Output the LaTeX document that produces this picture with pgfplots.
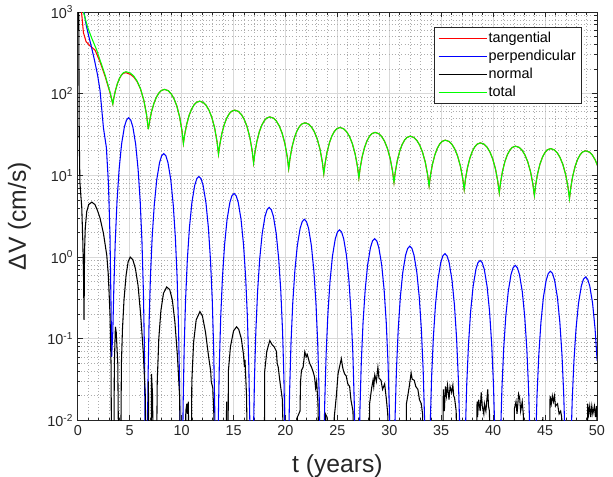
\documentclass[border=0pt]{standalone}
\usepackage{fontspec}
\setmainfont{Liberation Sans}
\setsansfont{Liberation Sans}
\usepackage{pgfplots}
\pgfplotsset{compat=1.18}
\usepackage{pgfplotstable}
\definecolor{axgray}{rgb}{0.15,0.15,0.15}

\pgfplotstableread{
t v
6.79 36.8
6.915 46.35
7.102 60.35
7.336 76.61
7.57 90.68
7.804 101.77
8.038 109.27
8.35 113
8.714 108.68
8.987 99.97
9.26 87.11
9.533 70.79
9.806 51.92
10.024 35.68
10.17 24.6
10.295 31.67
10.482 42.03
10.716 54.07
10.95 64.48
11.184 72.69
11.418 78.24
11.73 81
12.094 77.93
12.367 71.74
12.64 62.61
12.913 51.01
13.186 37.61
13.404 26.07
13.55 18.2
13.675 23.81
13.862 32.04
14.096 41.61
14.33 49.88
14.564 56.40
14.798 60.81
15.11 63
15.474 60.61
15.747 55.81
16.02 48.71
16.293 39.70
16.566 29.28
16.784 20.31
16.93 14.2
17.055 18.94
17.242 25.88
17.476 33.95
17.71 40.93
17.944 46.43
18.178 50.15
18.49 52
18.854 50.05
19.127 46.12
19.4 40.31
19.673 32.95
19.946 24.43
20.164 17.1
20.31 12.1
20.435 16.1
20.622 21.96
20.856 28.77
21.09 34.66
21.324 39.3
21.558 42.44
21.87 44
22.234 42.36
22.507 39.06
22.78 34.19
23.053 28.0
23.326 20.85
23.544 14.7
23.69 10.5
23.815 14.02
24.002 19.18
24.236 25.18
24.47 30.37
24.704 34.46
24.938 37.23
25.25 38.6
25.614 37.17
25.887 34.28
26.16 30.02
26.433 24.61
26.706 18.35
26.924 12.97
27.07 9.3
27.195 12.34
27.382 16.81
27.616 22.0
27.85 26.48
28.084 30.02
28.318 32.41
28.63 33.6
28.994 32.36
29.267 29.86
29.54 26.16
29.813 21.47
30.086 16.05
30.304 11.38
30.45 8.2
30.575 10.96
30.762 15.0
30.996 19.7
31.23 23.76
31.464 26.96
31.698 29.12
32.01 30.2
32.374 29.09
32.647 26.84
32.92 23.52
33.193 19.31
33.466 14.45
33.684 10.26
33.83 7.4
33.955 9.86
34.142 13.46
34.376 17.64
34.61 21.26
34.844 24.11
35.078 26.04
35.39 27
35.754 26.01
36.027 24.01
36.3 21.05
36.573 17.31
36.846 12.97
37.064 9.24
37.21 6.7
37.335 8.99
37.522 12.35
37.756 16.26
37.99 19.64
38.224 22.3
38.458 24.11
38.77 25
39.134 24.08
39.407 22.21
39.68 19.46
39.953 15.98
40.226 11.94
40.444 8.47
40.59 6.1
40.715 8.19
40.902 11.26
41.136 14.83
41.37 17.91
41.604 20.34
41.838 21.98
42.15 22.8
42.514 21.96
42.787 20.28
43.06 17.79
43.333 14.63
43.606 10.98
43.824 7.84
43.97 5.7
44.095 7.65
44.282 10.52
44.516 13.85
44.75 16.73
44.984 19.0
45.218 20.54
45.53 21.3
45.894 20.51
46.167 18.93
46.44 16.58
46.713 13.61
46.986 10.17
47.204 7.22
47.35 5.2
47.475 7.05
47.662 9.77
47.896 12.93
48.13 15.67
48.364 17.82
48.598 19.28
48.91 20
49.274 19.26
49.547 17.76
49.82 15.55
50.093 12.74
}\totaltail

\begin{document}
\begin{tikzpicture}
\begin{axis}[
  name=ax,
  scale only axis, width=389pt, height=306pt,
  ymode=log, xmin=0, xmax=50, ymin=0.01, ymax=1000,
  xtick={0,5,10,15,20,25,30,35,40,45,50},
  xticklabels={0,5,10,15,20,25,30,35,40,45,50},
  minor x tick num=4,
  ytick={0.01,0.1,1,10,100,1000},
  yticklabels={10\textsuperscript{-2},10\textsuperscript{-1},10\textsuperscript{0},10\textsuperscript{1},10\textsuperscript{2},10\textsuperscript{3}},
  grid=both,
  major grid style={draw=black!15, line width=0.5pt},
  minor grid style={draw=black!32, dotted, line width=0.5pt},
  axis line style={draw=axgray, line width=0.6pt},
  tick style={draw=axgray, line width=0.5pt},
  major tick length=4pt, minor tick length=2pt,
  tick align=inside,
  ticklabel style={font=\fontsize{10.8}{13}\selectfont, text=axgray},
  xlabel={t (years)}, ylabel={ΔV (cm/s)},
  label style={font=\fontsize{18.5}{22}\selectfont, text=axgray},
  xlabel style={at={(axis description cs:0.5,-0.072)}, anchor=north},
  ylabel style={at={(axis description cs:-0.081,0.5)}, anchor=south},
  legend style={at={(axis description cs:1,1)}, anchor=north east,
    xshift=-11.25pt, yshift=-11.25pt, draw=axgray, line width=0.5pt, fill=white,
    font=\fontsize{10.8}{12}\selectfont, inner xsep=3pt, inner ysep=2pt,
    row sep=1pt, cells={anchor=west},
    nodes={inner sep=1.2pt, text height=7.8pt, text depth=2.3pt}},
  legend image code/.code={\draw[#1, line width=0.8pt] (0pt,0pt) -- (36pt,0pt);},
  every axis plot/.append style={line width=0.8pt},
]
% tangential
\addplot[red] coordinates {
(0.3,1400) (0.36,1000) (0.54,560) (0.8,433) (1.18,385) (1.66,342) (2.14,245) (2.63,163) (3.1,103) (3.37,75)
(3.472,88.9) (3.624,109.3) (3.815,132.9) (4.005,153) (4.196,168.5) (4.386,177.9) (4.64,180.7) (5.07,172.1) (5.393,159.8) (5.715,140.3) (6.038,114.4) (6.36,82.9) (6.618,55.5) (6.79,36.8)
};
\addlegendentry{tangential}
\addplot[red, forget plot] table[x=t, y=v] {\totaltail};
% perpendicular
\addplot[blue] coordinates {
(0.45,1500) (0.6,1000) (0.8,700) (1.0,540) (1.3,380) (1.6,260) (1.9,170) (2.14,110) (2.47,38) (2.75,22) (2.95,8) (3.1,1.8) (3.2,0.25) (3.26,0.06)
(3.369,0.12) (3.471,0.42) (3.606,1.54) (3.775,4.77) (3.979,11.9) (4.216,24.2) (4.486,39.3) (4.689,47.6) (4.893,50.7) (5.096,47.6) (5.299,39.3) (5.570,24.2) (5.806,11.9) (6.010,4.77) (6.179,1.54) (6.314,0.39) (6.416,0.076) (6.585,0.0001)
(6.754,0.0278) (6.856,0.142) (6.991,0.561) (7.160,1.74) (7.364,4.35) (7.601,8.82) (7.871,14.3) (8.074,17.4) (8.278,18.5) (8.481,17.4) (8.684,14.3) (8.955,8.82) (9.191,4.35) (9.395,1.74) (9.564,0.561) (9.699,0.142) (9.801,0.0278) (9.97,0.0001)
(10.139,0.0146) (10.241,0.0747) (10.376,0.294) (10.545,0.912) (10.749,2.28) (10.986,4.63) (11.256,7.52) (11.459,9.11) (11.663,9.7) (11.866,9.11) (12.069,7.52) (12.340,4.63) (12.576,2.28) (12.780,0.912) (12.949,0.294) (13.084,0.0747) (13.186,0.0146) (13.355,0.0001)
(13.524,0.009) (13.626,0.0462) (13.761,0.182) (13.930,0.564) (14.134,1.41) (14.371,2.86) (14.641,4.65) (14.844,5.63) (15.048,6.0) (15.251,5.63) (15.454,4.65) (15.725,2.86) (15.961,1.41) (16.165,0.564) (16.334,0.182) (16.469,0.0462) (16.571,0.009) (16.74,0.0001)
(16.909,0.00608) (17.011,0.0312) (17.146,0.123) (17.315,0.381) (17.519,0.952) (17.756,1.93) (18.026,3.14) (18.229,3.80) (18.433,4.05) (18.636,3.80) (18.839,3.14) (19.110,1.93) (19.346,0.952) (19.550,0.381) (19.719,0.123) (19.854,0.0312) (19.956,0.00608) (20.125,0.0001)
(20.294,0.00435) (20.396,0.0223) (20.531,0.0879) (20.700,0.273) (20.904,0.682) (21.141,1.38) (21.411,2.25) (21.614,2.72) (21.818,2.9) (22.021,2.72) (22.224,2.25) (22.495,1.38) (22.731,0.682) (22.935,0.273) (23.104,0.0879) (23.239,0.0223) (23.341,0.00435) (23.51,0.0001)
(23.679,0.00323) (23.781,0.0166) (23.916,0.0651) (24.085,0.202) (24.289,0.505) (24.526,1.03) (24.796,1.67) (24.999,2.02) (25.203,2.15) (25.406,2.02) (25.609,1.67) (25.880,1.03) (26.116,0.505) (26.320,0.202) (26.489,0.0651) (26.624,0.0166) (26.726,0.00323) (26.895,0.0001)
(27.064,0.00252) (27.166,0.0129) (27.301,0.0509) (27.470,0.158) (27.674,0.395) (27.911,0.801) (28.181,1.30) (28.384,1.58) (28.588,1.68) (28.791,1.58) (28.994,1.30) (29.265,0.801) (29.501,0.395) (29.705,0.158) (29.874,0.0509) (30.009,0.0129) (30.111,0.00252) (30.28,0.0001)
(30.449,0.00204) (30.551,0.0105) (30.686,0.0412) (30.855,0.128) (31.059,0.320) (31.296,0.649) (31.566,1.054) (31.769,1.277) (31.973,1.36) (32.176,1.277) (32.379,1.054) (32.650,0.649) (32.886,0.320) (33.090,0.128) (33.259,0.0412) (33.394,0.0105) (33.496,0.00204) (33.665,0.0001)
(33.834,0.00165) (33.936,0.00847) (34.071,0.0333) (34.240,0.103) (34.444,0.259) (34.681,0.525) (34.951,0.853) (35.154,1.033) (35.358,1.10) (35.561,1.033) (35.764,0.853) (36.035,0.525) (36.271,0.259) (36.475,0.103) (36.644,0.0333) (36.779,0.00847) (36.881,0.00165) (37.05,0.0001)
(37.219,0.00137) (37.321,0.00701) (37.456,0.0276) (37.625,0.0855) (37.829,0.214) (38.066,0.434) (38.336,0.705) (38.539,0.854) (38.743,0.91) (38.946,0.854) (39.149,0.705) (39.420,0.434) (39.656,0.214) (39.860,0.0855) (40.029,0.0276) (40.164,0.00701) (40.266,0.00137) (40.435,0.0001)
(40.604,0.00119) (40.706,0.00608) (40.841,0.0239) (41.010,0.0743) (41.214,0.186) (41.451,0.377) (41.721,0.612) (41.924,0.742) (42.128,0.79) (42.331,0.742) (42.534,0.612) (42.805,0.377) (43.041,0.186) (43.245,0.0743) (43.414,0.0239) (43.549,0.00608) (43.651,0.00119) (43.82,0.0001)
(43.989,0.001) (44.091,0.00516) (44.226,0.0203) (44.395,0.063) (44.599,0.157) (44.836,0.320) (45.106,0.519) (45.309,0.629) (45.513,0.67) (45.716,0.629) (45.919,0.519) (46.190,0.320) (46.426,0.157) (46.630,0.063) (46.799,0.0203) (46.934,0.00516) (47.036,0.001) (47.205,0.0001)
(47.374,0.00086) (47.476,0.00439) (47.611,0.0173) (47.780,0.0536) (47.984,0.134) (48.221,0.272) (48.491,0.442) (48.694,0.535) (48.898,0.57) (49.101,0.535) (49.304,0.442) (49.575,0.272) (49.811,0.134) (50.015,0.0536)
};
\addlegendentry{perpendicular}
% normal
\addplot[black] coordinates {
(0.08,1500) (0.14,30) (0.2,8.3) (0.3,5.5) (0.38,4.1) (0.48,1.6) (0.55,0.6) (0.6,0.17) (0.65,1.2) (0.72,2.3) (0.86,3.6) (1.05,4.4) (1.35,4.7) (1.65,4.4) (1.9,3.7) (2.14,3.0) (2.47,1.95) (2.79,1.05) (2.94,0.6) (3.1,0.2) (3.2,0.05) (3.27,0.001)
(3.45,0.001) (3.52,0.05) (3.62,0.14) (3.7,0.12) (3.85,0.05) (3.97,0.001)
(4.1,0.001) (4.2,0.05) (4.3,0.13) (4.45,0.3) (4.65,0.6) (4.85,0.88) (5.05,1.0) (5.3,0.93) (5.55,0.72) (5.8,0.45) (6.05,0.2) (6.3,0.07) (6.5,0.02) (6.62,0.001)
(6.75,0.001) (6.8,0.03) (6.85,0.001) (7.05,0.001) (7.1,0.037) (7.2,0.02) (7.3,0.001)
(7.55,0.001) (7.65,0.03) (7.8,0.1) (8.0,0.22) (8.25,0.36) (8.56,0.43) (8.85,0.4) (9.1,0.3) (9.35,0.16) (9.6,0.06) (9.8,0.02) (9.95,0.001)
(10.35,0.001) (10.4,0.013) (10.5,0.016) (10.55,0.012) (10.65,0.017) (10.7,0.001)
(10.9,0.001) (10.98,0.03) (11.15,0.09) (11.4,0.17) (11.76,0.215) (12.0,0.19) (12.3,0.12) (12.6,0.06) (12.8,0.04) (12.85,0.03) (13.0,0.025) (13.1,0.012) (13.2,0.001)
(14.25,0.001) (14.33,0.017) (14.38,0.001)
(14.45,0.001) (14.5,0.04) (14.7,0.08) (15.0,0.125) (15.29,0.14) (15.5,0.13) (15.75,0.1) (15.95,0.065) (16.05,0.045) (16.1,0.055) (16.25,0.02) (16.4,0.001)
(17.95,0.001) (18.0,0.04) (18.2,0.07) (18.49,0.095) (18.7,0.085) (18.9,0.08) (19.13,0.07) (19.2,0.05) (19.3,0.045) (19.45,0.031) (19.7,0.018) (19.93,0.001)
(21.05,0.001) (21.15,0.011) (21.4,0.013) (21.45,0.03) (21.54,0.041) (21.7,0.045) (21.86,0.069) (22.0,0.06) (22.1,0.064) (22.33,0.05) (22.5,0.045) (22.65,0.04) (22.8,0.034) (22.9,0.025) (23.0,0.03) (23.13,0.016) (23.3,0.001)
(23.8,0.001) (23.85,0.012) (24.0,0.011) (24.1,0.001)
(24.65,0.001) (24.7,0.011) (24.9,0.02) (25.06,0.037) (25.2,0.045) (25.38,0.057) (25.5,0.045) (25.6,0.04) (25.7,0.037) (25.85,0.035) (26.0,0.028) (26.18,0.026) (26.3,0.018) (26.5,0.013) (26.66,0.001)
(28.05,0.001) (28.1,0.016) (28.3,0.025) (28.43,0.031) (28.5,0.026) (28.6,0.036) (28.75,0.03) (28.9,0.0445) (29.0,0.033) (29.2,0.031) (29.35,0.024) (29.55,0.028) (29.7,0.019) (29.85,0.012) (29.97,0.001)
(31.6,0.001) (31.65,0.016) (31.9,0.025) (32.1,0.038) (32.2,0.032) (32.4,0.031) (32.55,0.026) (32.75,0.024) (32.9,0.018) (33.08,0.016) (33.2,0.012) (33.3,0.001)
(35.15,0.001) (35.2,0.024) (35.3,0.013) (35.4,0.026) (35.5,0.02) (35.6,0.027) (35.75,0.018) (35.85,0.026) (36.0,0.022) (36.12,0.027) (36.2,0.02) (36.28,0.019) (36.44,0.013) (36.55,0.001)
(38.35,0.001) (38.45,0.017) (38.5,0.011) (38.6,0.018) (38.75,0.013) (38.85,0.022) (38.95,0.015) (39.1,0.012) (39.16,0.016) (39.3,0.013) (39.48,0.024) (39.55,0.015) (39.64,0.013) (39.8,0.001)
(41.95,0.001) (42.05,0.014) (42.2,0.017) (42.3,0.012) (42.45,0.021) (42.55,0.019) (42.65,0.013) (42.8,0.017) (42.9,0.012) (43.0,0.001)
(44.75,0.001) (44.78,0.011) (44.82,0.001)
(45.4,0.001) (45.48,0.02) (45.6,0.016) (45.7,0.02) (45.8,0.017) (45.9,0.02) (46.0,0.015) (46.2,0.016) (46.35,0.012) (46.5,0.013) (46.6,0.011) (46.76,0.001)
(49.05,0.001) (49.1,0.016) (49.2,0.012) (49.3,0.015) (49.4,0.011) (49.5,0.015) (49.6,0.012) (49.75,0.015) (49.85,0.011) (49.95,0.015) (50.0,0.01)
};
\addlegendentry{normal}
% total
\addplot[green] coordinates {
(0.42,1400) (0.54,1000) (0.93,660) (1.35,476) (1.82,342) (2.14,258) (2.63,169) (3.1,105) (3.37,75)
(3.472,88.9) (3.624,109.3) (3.815,133.0) (4.005,153.5) (4.196,169.6) (4.386,180.6) (4.64,186) (5.07,178.7) (5.393,164.0) (5.715,142.3) (6.038,114.8) (6.36,82.9) (6.618,55.5) (6.79,36.8)
};
\addlegendentry{total}
\addplot[green, forget plot] table[x=t, y=v] {\totaltail};
\end{axis}
\pgfresetboundingbox
\path[use as bounding box] ([shift={(-58.3pt,-42pt)}]ax.south west) rectangle ([shift={(12pt,9pt)}]ax.north east);
\end{tikzpicture}
\end{document}
